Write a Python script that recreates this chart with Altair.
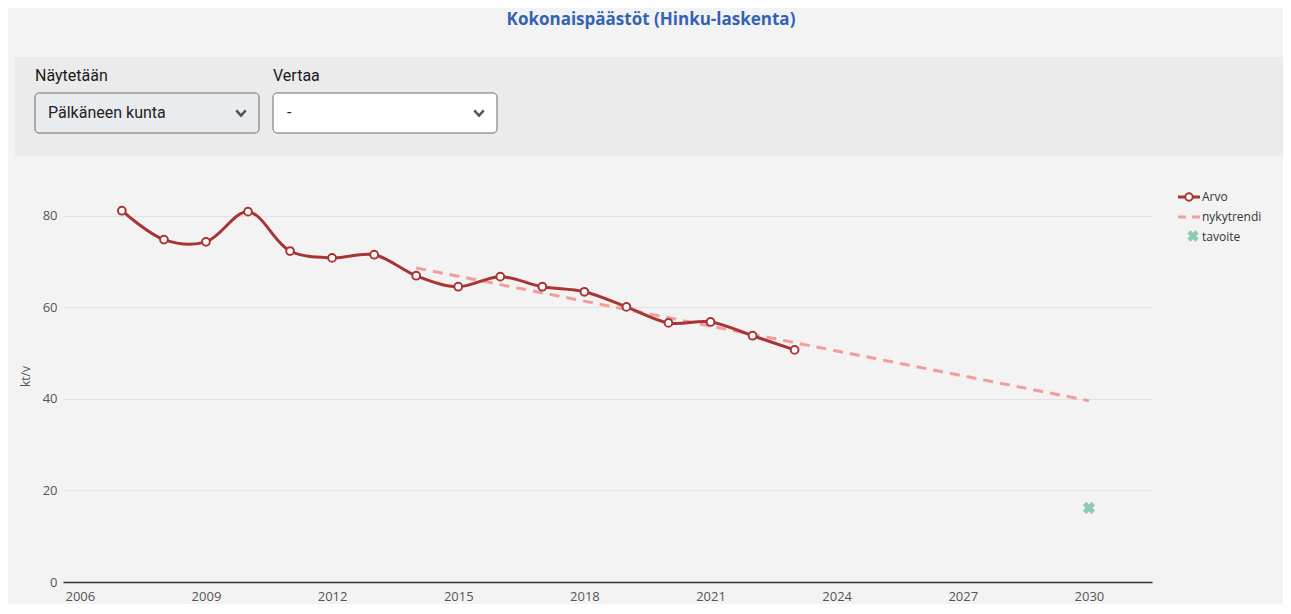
import altair as alt
import pandas as pd

# ---- data ----
years = list(range(2007, 2024))
arvo = [81.1, 74.8, 74.3, 80.9, 72.3, 70.8, 71.5, 66.9, 64.5, 66.7, 64.5, 63.4, 60.1, 56.6, 56.8, 53.8, 50.7]
trend_years = [2014, 2030]
trend_values = [68.6, 39.6]
target_years = [2030]
target_values = [16.2]
x_ticks = [2006, 2009, 2012, 2015, 2018, 2021, 2024, 2027, 2030]
y_ticks = [0, 20, 40, 60, 80]

title_text = "Kokonaispäästöt (Hinku-laskenta)"
label_show = "Näytetään"
label_compare = "Vertaa"
select_show = "Pälkäneen kunta"
select_compare = "-"
legend_labels = ["Arvo", "nykytrendi", "tavoite"]

RED = "#a83434"
PINK = "#f29c9c"
GREEN = "#8fcbb0"
FONT = "Open Sans"
UIFONT = "Roboto"

df_arvo = pd.DataFrame({"year": years, "value": arvo})
df_trend = pd.DataFrame({"year": trend_years, "value": trend_values})
df_target = pd.DataFrame({"year": target_years, "value": target_values})
one = pd.DataFrame({"k": [0]})

X = alt.X("year:Q",
          scale=alt.Scale(domain=[2005.6, 2031.5], nice=False, zero=False),
          axis=alt.Axis(values=x_ticks, format="d", grid=False, ticks=False,
                        domainColor="#333333", domainWidth=1.5,
                        labelPadding=8, labelFontSize=13, labelColor="#555555",
                        labelFont=FONT, title=None))
Y = alt.Y("value:Q",
          scale=alt.Scale(domain=[0, 90], nice=False),
          axis=alt.Axis(values=y_ticks, grid=True, gridColor="#e3e3e3", domain=False,
                        ticks=False, labelPadding=6, labelFontSize=13,
                        labelColor="#555555", labelFont=FONT,
                        title="kt/v", titleFont=FONT, titleFontSize=12,
                        titleFontWeight="normal", titleColor="#555555", titlePadding=10))


def text_layer(t, x, y, **kw):
    return alt.Chart(pd.DataFrame({"t": [t]})).mark_text(baseline="middle", **kw).encode(
        text="t:N", x=alt.value(x), y=alt.value(y))


# ---- decorative header (title + selection panel) ----
panel = alt.Chart(one).mark_rect(color="#ebebeb").encode(
    x=alt.value(-48), x2=alt.value(1240), y=alt.value(-113), y2=alt.value(-14))

title = text_layer(title_text, 588, -150, font=FONT, fontSize=17, fontWeight="bold",
                   color="#3462b4", align="center")
lab1 = text_layer(label_show, -28, -94, font=UIFONT, fontSize=16, fontWeight="normal",
                  color="#1a1a1a", align="left")
lab2 = text_layer(label_compare, 210, -94, font=UIFONT, fontSize=16, fontWeight="normal",
                  color="#1a1a1a", align="left")

dd1 = alt.Chart(one).mark_rect(fill="#e9ecef", stroke="#6c6c6c", strokeWidth=1, cornerRadius=4).encode(
    x=alt.value(-28), x2=alt.value(196), y=alt.value(-77), y2=alt.value(-37))
dd2 = alt.Chart(one).mark_rect(fill="#ffffff", stroke="#6c6c6c", strokeWidth=1, cornerRadius=4).encode(
    x=alt.value(210), x2=alt.value(434), y=alt.value(-77), y2=alt.value(-37))

dd1_text = text_layer(select_show, -15, -57, font=UIFONT, fontSize=16, color="#222222", align="left")
dd2_text = text_layer(select_compare, 224, -57, font=UIFONT, fontSize=16, color="#222222", align="left")

chev_path = "M-1,-0.55L0,0.55L1,-0.55"
chev1 = alt.Chart(one).mark_point(shape=chev_path, filled=False, stroke="#111111",
                                  strokeWidth=2.5, size=90).encode(
    x=alt.value(178), y=alt.value(-57))
chev2 = alt.Chart(one).mark_point(shape=chev_path, filled=False, stroke="#111111",
                                  strokeWidth=2.5, size=90).encode(
    x=alt.value(416), y=alt.value(-57))

# ---- data marks ----
trend = alt.Chart(df_trend).mark_line(color=PINK, strokeWidth=3, strokeDash=[10, 7]).encode(x=X, y=Y)
line = alt.Chart(df_arvo).mark_line(color=RED, strokeWidth=3, interpolate="catmull-rom").encode(x=X, y=Y)
pts = alt.Chart(df_arvo).mark_point(filled=True, fill="white", stroke=RED, strokeWidth=2,
                                    size=60, opacity=1).encode(x=X, y=Y)
target = alt.Chart(df_target).mark_point(shape="cross", angle=45, filled=True, color=GREEN,
                                         size=150, opacity=1).encode(x=X, y=Y)

# ---- manual legend ----
leg_arvo_line = alt.Chart(one).mark_rule(color=RED, strokeWidth=3).encode(
    x=alt.value(1115), x2=alt.value(1137), y=alt.value(27))
leg_arvo_pt = alt.Chart(one).mark_point(filled=True, fill="white", stroke=RED, strokeWidth=2,
                                        size=55, opacity=1).encode(x=alt.value(1126), y=alt.value(27))
leg_trend = alt.Chart(one).mark_rule(color=PINK, strokeWidth=3, strokeDash=[8, 6]).encode(
    x=alt.value(1115), x2=alt.value(1137), y=alt.value(47))
leg_target = alt.Chart(one).mark_point(shape="cross", angle=45, filled=True, color=GREEN,
                                       size=130, opacity=1).encode(x=alt.value(1130), y=alt.value(66))
leg_t1 = text_layer(legend_labels[0], 1139, 27, font=FONT, fontSize=12, color="#333333", align="left")
leg_t2 = text_layer(legend_labels[1], 1139, 47, font=FONT, fontSize=12, color="#333333", align="left")
leg_t3 = text_layer(legend_labels[2], 1139, 67, font=FONT, fontSize=12, color="#333333", align="left")

chart = alt.layer(
    panel, title, lab1, lab2, dd1, dd2, dd1_text, dd2_text, chev1, chev2,
    trend, line, pts, target,
    leg_arvo_line, leg_arvo_pt, leg_trend, leg_target, leg_t1, leg_t2, leg_t3
).properties(
    width=1089, height=412,
    padding={"left": 55, "top": 162, "right": 131, "bottom": 22},
    autosize=alt.AutoSizeParams(type="none"),
    background="#f3f3f3",
).configure_view(stroke=None)

chart.save("out.html", embed_options={"renderer": "svg", "actions": False})
